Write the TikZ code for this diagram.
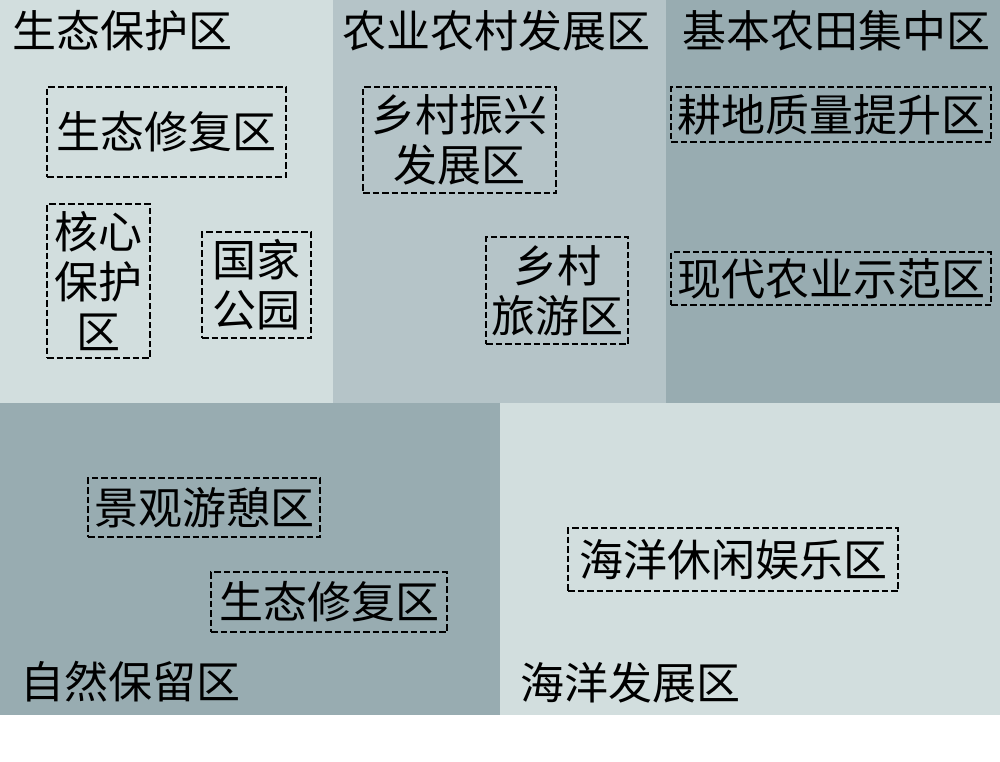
\documentclass[tikz,border=0pt]{standalone}
\usepackage{fontspec}
\newfontfamily\cjk{Noto Sans CJK SC}
\definecolor{zonelight}{HTML}{D2DEDE}
\definecolor{zonemid}{HTML}{B5C4C8}
\definecolor{zonedark}{HTML}{98ACB1}

\begin{document}
\begin{tikzpicture}
  [x=1pt,y=-1pt,every node/.style={font=\cjk\fontsize{44}{50}\selectfont,inner sep=0pt},
   subzone/.style={draw,line width=2.2pt,dash pattern=on 6.5pt off 3pt,align=center},
   zonetitle/.style={anchor=west}]
  \useasboundingbox (0,0) rectangle (1000,762);
  % zones
  \fill[zonelight] (0,0) rectangle (333,403);
  \fill[zonemid] (333,0) rectangle (666,403);
  \fill[zonedark] (666,0) rectangle (1000,403);
  \fill[zonedark] (0,403) rectangle (500,715);
  \fill[zonelight] (500,403) rectangle (1000,715);
  % zone titles
  \node[zonetitle] (stbh) at (12,31) {生态保护区};
  \node[zonetitle] (nync) at (342,31) {农业农村发展区};
  \node[zonetitle] (jbnt) at (682,31) {基本农田集中区};
  \node[zonetitle] (zrbl) at (20,682) {自然保留区};
  \node[zonetitle] (hyfz) at (520,683) {海洋发展区};
  % sub zones
  \node[subzone,minimum width=239pt,minimum height=90pt] (stxf) at (166.5,132) {生态修复区};
  \node[subzone,minimum width=103pt,minimum height=154pt] (hxbh) at (98.5,281) {核心\\保护\\区};
  \node[subzone,minimum width=109pt,minimum height=106pt] (gjgy) at (256.5,285) {国家\\公园};
  \node[subzone,minimum width=193pt,minimum height=106pt] (xczx) at (459.5,140) {乡村振兴\\发展区};
  \node[subzone,minimum width=142pt,minimum height=107pt] (xcly) at (557,290.5) {乡村\\旅游区};
  \node[subzone,minimum width=320pt,minimum height=55pt] (gdzl) at (831,114.5) {耕地质量提升区};
  \node[subzone,minimum width=320pt,minimum height=53pt] (xdny) at (831,278.5) {现代农业示范区};
  \node[subzone,minimum width=232pt,minimum height=59pt] (jgyq) at (204,507.5) {景观游憩区};
  \node[subzone,minimum width=236pt,minimum height=60pt] (stxf2) at (329,602) {生态修复区};
  \node[subzone,minimum width=330pt,minimum height=63pt] (hyxx) at (733,559.5) {海洋休闲娱乐区};
\end{tikzpicture}
\end{document}
